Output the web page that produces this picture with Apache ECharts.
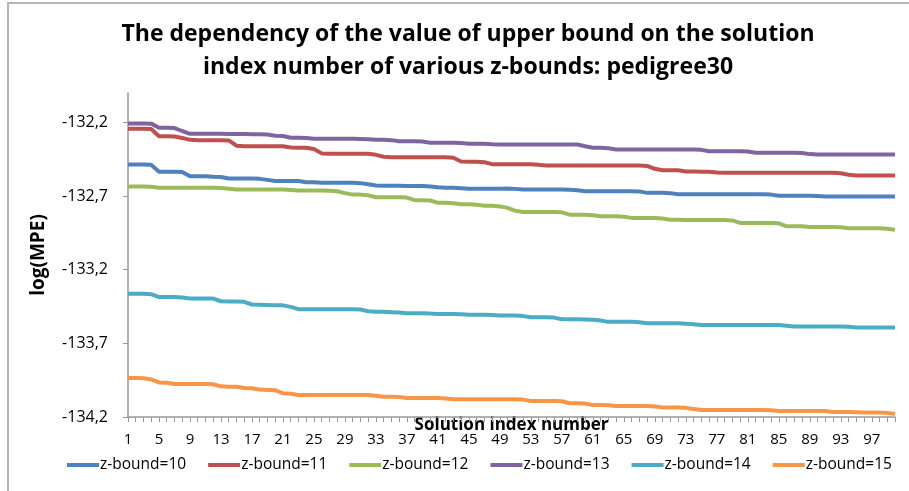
<!DOCTYPE html>
<html>
<head>
<meta charset="utf-8">
<script src="https://cdn.jsdelivr.net/npm/echarts@6/dist/echarts.min.js"></script>
<style>
  html, body { margin: 0; padding: 0; background: #fff; }
  #chart { width: 909px; height: 491px; }
</style>
</head>
<body>
<div id="chart"></div>
<script>
// solution index 1..100
var categories = [];
for (var i = 1; i <= 100; i++) categories.push(String(i));

var seriesNames = ['z-bound=10', 'z-bound=11', 'z-bound=12', 'z-bound=13', 'z-bound=14', 'z-bound=15'];

var zb10 = [
  -132.486, -132.486, -132.486, -132.488, -132.535, -132.535, -132.535, -132.537, -132.565, -132.565,
  -132.565, -132.568, -132.570, -132.581, -132.581, -132.581, -132.581, -132.583, -132.590, -132.597,
  -132.597, -132.597, -132.598, -132.606, -132.606, -132.610, -132.610, -132.610, -132.610, -132.610,
  -132.612, -132.620, -132.628, -132.629, -132.629, -132.630, -132.632, -132.632, -132.632, -132.635,
  -132.640, -132.644, -132.644, -132.647, -132.650, -132.650, -132.650, -132.650, -132.650, -132.649,
  -132.651, -132.656, -132.656, -132.656, -132.656, -132.656, -132.656, -132.657, -132.660, -132.667,
  -132.667, -132.667, -132.667, -132.667, -132.667, -132.667, -132.668, -132.678, -132.678, -132.678,
  -132.680, -132.688, -132.688, -132.688, -132.688, -132.688, -132.688, -132.688, -132.688, -132.688,
  -132.688, -132.688, -132.688, -132.690, -132.697, -132.697, -132.697, -132.697, -132.697, -132.700,
  -132.703, -132.703, -132.703, -132.703, -132.703, -132.703, -132.703, -132.703, -132.703, -132.703
];
var zb11 = [
  -132.243, -132.243, -132.243, -132.245, -132.293, -132.293, -132.295, -132.305, -132.318, -132.320,
  -132.320, -132.320, -132.320, -132.322, -132.358, -132.361, -132.361, -132.361, -132.361, -132.361,
  -132.362, -132.370, -132.372, -132.372, -132.380, -132.410, -132.413, -132.413, -132.413, -132.413,
  -132.413, -132.413, -132.420, -132.433, -132.436, -132.436, -132.436, -132.436, -132.436, -132.436,
  -132.436, -132.436, -132.440, -132.465, -132.467, -132.467, -132.470, -132.483, -132.484, -132.484,
  -132.484, -132.484, -132.484, -132.488, -132.493, -132.493, -132.493, -132.493, -132.493, -132.493,
  -132.493, -132.493, -132.493, -132.493, -132.493, -132.493, -132.493, -132.495, -132.515, -132.524,
  -132.524, -132.525, -132.533, -132.533, -132.534, -132.535, -132.540, -132.542, -132.542, -132.542,
  -132.542, -132.542, -132.542, -132.542, -132.542, -132.542, -132.542, -132.542, -132.542, -132.542,
  -132.542, -132.542, -132.545, -132.555, -132.560, -132.560, -132.560, -132.560, -132.560, -132.560
];
var zb12 = [
  -132.635, -132.635, -132.635, -132.636, -132.644, -132.644, -132.644, -132.644, -132.644, -132.644,
  -132.644, -132.644, -132.645, -132.650, -132.656, -132.656, -132.656, -132.656, -132.656, -132.656,
  -132.656, -132.658, -132.662, -132.662, -132.662, -132.662, -132.664, -132.667, -132.680, -132.690,
  -132.690, -132.695, -132.708, -132.708, -132.708, -132.708, -132.710, -132.728, -132.728, -132.730,
  -132.746, -132.746, -132.748, -132.755, -132.755, -132.758, -132.765, -132.765, -132.770, -132.780,
  -132.800, -132.808, -132.808, -132.808, -132.808, -132.808, -132.810, -132.826, -132.826, -132.826,
  -132.830, -132.837, -132.837, -132.837, -132.840, -132.848, -132.848, -132.848, -132.848, -132.852,
  -132.860, -132.860, -132.863, -132.863, -132.863, -132.863, -132.863, -132.863, -132.865, -132.882,
  -132.882, -132.882, -132.882, -132.882, -132.885, -132.905, -132.905, -132.905, -132.910, -132.910,
  -132.910, -132.910, -132.912, -132.919, -132.919, -132.919, -132.919, -132.919, -132.922, -132.928
];
var zb13 = [
  -132.207, -132.207, -132.207, -132.208, -132.236, -132.236, -132.238, -132.258, -132.277, -132.277,
  -132.277, -132.277, -132.277, -132.278, -132.278, -132.278, -132.280, -132.280, -132.282, -132.290,
  -132.292, -132.304, -132.304, -132.305, -132.311, -132.311, -132.311, -132.311, -132.311, -132.311,
  -132.312, -132.314, -132.318, -132.318, -132.320, -132.327, -132.327, -132.327, -132.330, -132.338,
  -132.338, -132.338, -132.338, -132.340, -132.345, -132.345, -132.345, -132.348, -132.350, -132.350,
  -132.350, -132.350, -132.350, -132.350, -132.350, -132.350, -132.350, -132.350, -132.350, -132.362,
  -132.372, -132.372, -132.375, -132.384, -132.384, -132.384, -132.384, -132.384, -132.384, -132.384,
  -132.384, -132.384, -132.384, -132.384, -132.386, -132.395, -132.395, -132.395, -132.395, -132.395,
  -132.397, -132.406, -132.406, -132.406, -132.406, -132.406, -132.406, -132.408, -132.415, -132.418,
  -132.418, -132.418, -132.418, -132.418, -132.418, -132.418, -132.418, -132.418, -132.418, -132.418
];
var zb14 = [
  -133.363, -133.363, -133.363, -133.366, -133.386, -133.386, -133.386, -133.388, -133.395, -133.395,
  -133.395, -133.396, -133.414, -133.416, -133.416, -133.418, -133.436, -133.438, -133.440, -133.442,
  -133.442, -133.452, -133.468, -133.468, -133.468, -133.468, -133.468, -133.468, -133.468, -133.468,
  -133.470, -133.482, -133.486, -133.486, -133.488, -133.490, -133.495, -133.495, -133.495, -133.498,
  -133.500, -133.500, -133.500, -133.502, -133.506, -133.506, -133.506, -133.508, -133.511, -133.511,
  -133.511, -133.515, -133.522, -133.522, -133.522, -133.525, -133.536, -133.536, -133.536, -133.538,
  -133.540, -133.545, -133.554, -133.554, -133.554, -133.554, -133.556, -133.563, -133.563, -133.563,
  -133.563, -133.564, -133.566, -133.570, -133.576, -133.576, -133.576, -133.576, -133.576, -133.576,
  -133.576, -133.576, -133.576, -133.576, -133.576, -133.580, -133.586, -133.586, -133.586, -133.586,
  -133.586, -133.586, -133.586, -133.588, -133.592, -133.592, -133.592, -133.592, -133.592, -133.592
];
var zb15 = [
  -133.935, -133.935, -133.937, -133.945, -133.965, -133.967, -133.976, -133.976, -133.976, -133.976,
  -133.976, -133.978, -133.992, -133.994, -133.994, -134.003, -134.005, -134.014, -134.016, -134.018,
  -134.039, -134.042, -134.050, -134.050, -134.050, -134.050, -134.050, -134.050, -134.050, -134.050,
  -134.050, -134.050, -134.055, -134.062, -134.062, -134.064, -134.071, -134.071, -134.071, -134.071,
  -134.071, -134.074, -134.080, -134.080, -134.080, -134.080, -134.080, -134.080, -134.080, -134.080,
  -134.080, -134.082, -134.091, -134.091, -134.091, -134.091, -134.093, -134.107, -134.107, -134.109,
  -134.118, -134.118, -134.120, -134.125, -134.125, -134.125, -134.125, -134.125, -134.128, -134.136,
  -134.136, -134.136, -134.138, -134.145, -134.152, -134.152, -134.152, -134.152, -134.152, -134.152,
  -134.152, -134.152, -134.152, -134.154, -134.159, -134.159, -134.159, -134.159, -134.159, -134.159,
  -134.160, -134.166, -134.166, -134.166, -134.168, -134.170, -134.170, -134.170, -134.172, -134.180
];

var colors = ['#4F81BD', '#C0504D', '#9BBB59', '#8064A2', '#4BACC6', '#F79646'];
var allData = [zb10, zb11, zb12, zb13, zb14, zb15];

var font = '"Open Sans", sans-serif';

var series = [];
for (var s = 0; s < allData.length; s++) {
    series.push({
        name: seriesNames[s],
        type: 'line',
        data: allData[s],
        showSymbol: false,
        symbol: 'none',
        lineStyle: { width: 4, color: colors[s] },
        itemStyle: { color: colors[s] }
    })
}

var chart = echarts.init(document.getElementById('chart'));
chart.setOption({
    animation: false,
    color: colors,
    textStyle: { fontFamily: font },
    title: {
        text: 'The dependency of the value of upper bound on the solution\nindex number of various z-bounds: pedigree30',
        left: 463,
        textAlign: 'center',
        top: 13,
        textStyle: { fontFamily: font, fontSize: 23, fontWeight: 'bold', color: '#000', lineHeight: 33 }
    },
    graphic: [{
        type: 'rect',
        shape: { x: 8, y: 3, width: 1000, height: 600 },
        style: { fill: 'none', stroke: '#b5b5b5', lineWidth: 2 },
        silent: true
    }],
    legend: {
        bottom: 13,
        left: 62,
        itemWidth: 32,
        itemHeight: 4,
        itemGap: 22,
        icon: 'rect',
        textStyle: { fontFamily: font, fontSize: 15.5, color: '#000', padding: [0, 0, 0, -4] },
        data: seriesNames
    },
    grid: { left: 128, right: 14, top: 93, bottom: 74, containLabel: false },
    xAxis: {
        type: 'category',
        data: categories,
        boundaryGap: false,
        name: 'Solution index number',
        nameLocation: 'middle',
        nameGap: 0,
        nameMoveOverlap: false,
        nameTextStyle: { fontFamily: font, fontSize: 17, fontWeight: 'bold', color: '#000', verticalAlign: 'top' },
        axisLine: { lineStyle: { color: '#999', width: 1.5 } },
        axisTick: { show: true, interval: 0, length: 5, lineStyle: { color: '#999' } },
        axisLabel: { interval: 3, margin: 15, fontSize: 15, color: '#000', fontFamily: font },
        splitLine: { show: false }
    },
    yAxis: {
        type: 'value',
        min: -134.2,
        max: -132.0,
        interval: 0.5,
        name: 'log(MPE)',
        nameLocation: 'middle',
        nameGap: 80,
        nameRotate: 90,
        nameMoveOverlap: false,
        nameTextStyle: { fontFamily: font, fontSize: 19, fontWeight: 'bold', color: '#000' },
        axisLine: { show: true, lineStyle: { color: '#999', width: 1.5 } },
        axisTick: { show: true, length: 5, lineStyle: { color: '#999' } },
        axisLabel: {
            showMaxLabel: false,
            margin: 20,
            fontSize: 16,
            color: '#000',
            fontFamily: font,
            formatter: function (v) { return v.toFixed(1).replace('.', ','); }
        },
        splitLine: { show: false }
    },
    series: series
});
</script>
</body>
</html>
